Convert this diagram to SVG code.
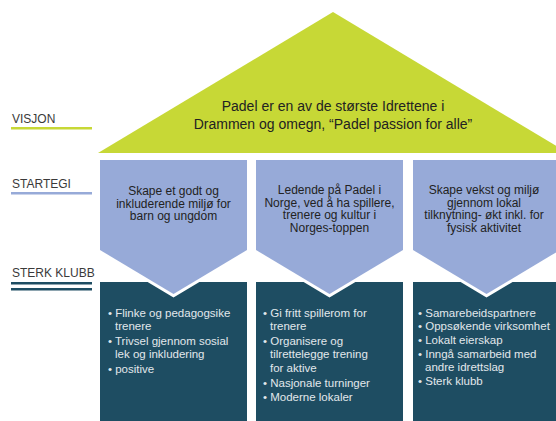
<svg xmlns="http://www.w3.org/2000/svg" width="556" height="421" viewBox="0 0 556 421">
<style>
  text { font-family: "Liberation Sans", Arial, sans-serif; }
  .lbl { font-size: 12px; fill: #3a3a3a; }
  .vis { font-size: 14px; fill: #222; text-anchor: middle; }
  .str { font-size: 12px; fill: #222; text-anchor: middle; }
  .bul { font-size: 11.5px; fill: #e2e8ec; }
  .chev { fill: #97aad8; stroke: #ffffff; stroke-width: 6; paint-order: stroke; stroke-linejoin: miter; }
  .box { fill: #1e4d62; }
</style>
<g id="labels">
  <g id="label-visjon">
    <text class="lbl" x="12" y="123">VISJON</text>
    <rect x="11" y="127" width="81" height="2.5" fill="#c7d836"/>
  </g>
  <g id="label-startegi">
    <text class="lbl" x="12" y="188">STARTEGI</text>
    <rect x="11" y="192" width="81" height="2.5" fill="#97aad8"/>
  </g>
  <g id="label-sterk-klubb">
    <text class="lbl" x="12" y="277">STERK KLUBB</text>
    <rect x="11" y="282" width="81" height="2.5" fill="#1e4d62"/>
    <rect x="11" y="288" width="81" height="2.5" fill="#1e4d62"/>
  </g>
</g>
<g id="boxes">
  <g id="box-1">
    <rect class="box" x="100" y="282" width="147" height="145"/>
    <text class="bul"><tspan x="108" y="317">• Flinke og pedagogsike</tspan><tspan x="115" y="330">trenere</tspan><tspan x="108" y="345">• Trivsel gjennom sosial</tspan><tspan x="115" y="358">lek og inkludering</tspan><tspan x="108" y="373">• positive</tspan></text>
  </g>
  <g id="box-2">
    <rect class="box" x="256" y="282" width="147" height="145"/>
    <text class="bul"><tspan x="263" y="317">• Gi fritt spillerom for</tspan><tspan x="270" y="330">trenere</tspan><tspan x="263" y="345">• Organisere og</tspan><tspan x="270" y="358">tilrettelegge trening</tspan><tspan x="270" y="372">for aktive</tspan><tspan x="263" y="387">• Nasjonale turninger</tspan><tspan x="263" y="401">• Moderne lokaler</tspan></text>
  </g>
  <g id="box-3">
    <rect class="box" x="413" y="282" width="150" height="145"/>
    <text class="bul"><tspan x="418" y="317">• Samarebeidspartnere</tspan><tspan x="418" y="330">• Oppsøkende virksomhet</tspan><tspan x="418" y="344">• Lokalt eierskap</tspan><tspan x="418" y="358">• Inngå samarbeid med</tspan><tspan x="425" y="371">andre idrettslag</tspan><tspan x="418" y="385">• Sterk klubb</tspan></text>
  </g>
</g>
<g id="visjon">
  <polygon points="333,12 98,153 568,153" fill="#c7d836"/>
  <text class="vis"><tspan x="333" y="111">Padel er en av de største Idrettene i</tspan><tspan x="333" y="129">Drammen og omegn, “Padel passion for alle”</tspan></text>
</g>
<g id="strategi">
  <g id="strategi-1">
    <polygon class="chev" points="100,160 247,160 247,250 173.5,294 100,250"/>
    <text class="str"><tspan x="173.5" y="195">Skape et godt og</tspan><tspan x="173.5" y="207.5">inkluderende miljø for</tspan><tspan x="173.5" y="220">barn og ungdom</tspan></text>
  </g>
  <g id="strategi-2">
    <polygon class="chev" points="256,160 403,160 403,250 329.5,294 256,250"/>
    <text class="str"><tspan x="329.5" y="194">Ledende på Padel i</tspan><tspan x="329.5" y="206.5">Norge, ved å ha spillere,</tspan><tspan x="329.5" y="219">trenere og kultur i</tspan><tspan x="329.5" y="231.5">Norges-toppen</tspan></text>
  </g>
  <g id="strategi-3">
    <polygon class="chev" points="413,160 560,160 560,250 486.5,294 413,250"/>
    <text class="str"><tspan x="484" y="194">Skape vekst og miljø</tspan><tspan x="484" y="206.5">gjennom lokal</tspan><tspan x="484" y="219">tilknytning- økt inkl. for</tspan><tspan x="484" y="231.5">fysisk aktivitet</tspan></text>
  </g>
</g>
</svg>
